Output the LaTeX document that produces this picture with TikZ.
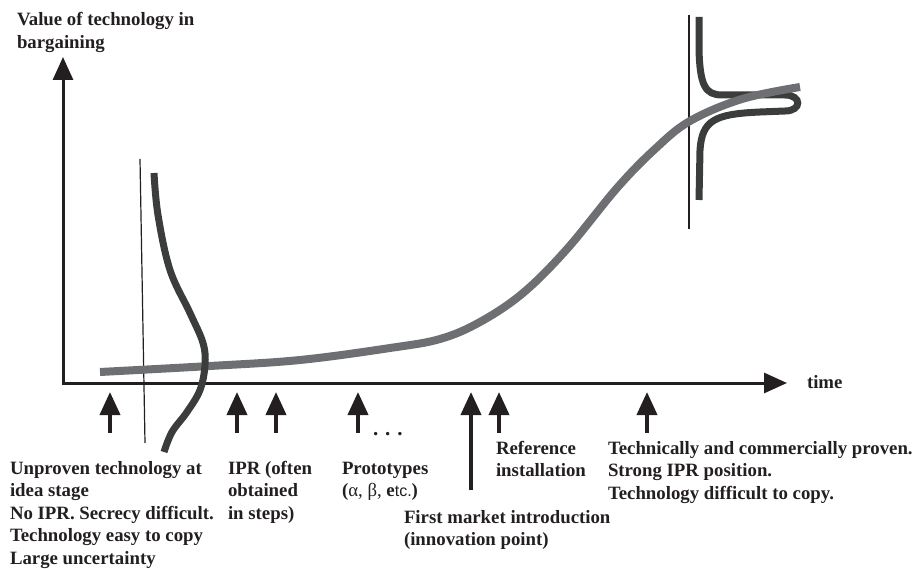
\documentclass[tikz,border=0pt]{standalone}
\usepackage{fontspec}
\setmainfont{Liberation Serif}
\newfontfamily\arialf{Liberation Sans}
\usetikzlibrary{arrows.meta}
\definecolor{axisc}{HTML}{231F20}
\definecolor{curveg}{HTML}{6D6F72}
\definecolor{curved}{HTML}{3B3D3D}
\newcommand\lblfont{\fontsize{18.8}{22.5}\selectfont\bfseries}
\begin{document}
\begin{tikzpicture}[x=1pt,y=-1pt,
 lbl/.style={anchor=base west, inner sep=0, outer sep=0, font=\lblfont, text=axisc},
 axisline/.style={draw=axisc, line width=3pt, line join=miter, {Triangle[length=23pt,width=20pt]}-{Triangle[length=23pt,width=20pt]}},
 markarrow/.style={draw=axisc, line width=3.8pt, -{Triangle[length=23pt,width=20pt]}},
 thinline/.style={draw=axisc, line width=1.2pt},
 graycurve/.style={draw=curveg, line width=8pt},
 darkcurve/.style={draw=curved, line width=7pt},
]
\useasboundingbox (0,0) rectangle (920,569);
% axes
\coordinate (O) at (63,383);
\coordinate (ytip) at (63,57);
\coordinate (xtip) at (787,383);
\draw[axisline] (ytip) -- (O) -- (xtip);
% thin vertical lines
\coordinate (tl1) at (140,159);
\coordinate (tl2) at (145,443);
\coordinate (tr1) at (689,15);
\coordinate (tr2) at (689,229);
\draw[thinline] (tl1) -- (tl2);
\draw[thinline] (tr1) -- (tr2);
% right dark curve
\draw[darkcurve] (699,17) -- (699,50) .. controls (700,85) and (705,95) .. (722,95)
  -- (785,95) .. controls (802,95) and (802,111) .. (785,111)
  -- (760,112) .. controls (715,114) and (702,120) .. (700,150) -- (699,200);
% gray S-curve
\draw[graycurve] plot[smooth, tension=0.6] coordinates {(100,372) (210,366) (300,360) (390,348) (440,339) (480,322) (523,293) (567,249) (617,188) (655,149) (690,121) (742,99) (800,87)};
% left dark curve
\draw[darkcurve] plot[smooth, tension=0.6] coordinates {(154,173) (158,215) (170,270) (190,313) (203,343) (205,365) (200,390) (187,412) (172,432) (164,452)};
% marker arrows
\foreach \n/\x/\yb in {a1/110/433, a2/237/433, a3/276/433, a4/358/433, a5/471/490, a6/499/433, a7/647/433}{
  \coordinate (\n b) at (\x,\yb);
  \coordinate (\n t) at (\x,392);
  \draw[markarrow] (\n b) -- (\n t);
}
% labels
\node[lbl] (ylab) at (17,26) {\begin{tabular}[t]{@{}l@{}}Value of technology in\\bargaining\end{tabular}};
\node[lbl] (xlab) at (807,388) {time};
\node[lbl, font=\fontsize{21}{22}\selectfont\bfseries] (dots) at (373,435) {.\hspace{7pt}.\hspace{7pt}.};
\node[lbl] (l1) at (10,474) {\begin{tabular}[t]{@{}l@{}}Unproven technology at\\idea stage\\No IPR. Secrecy difficult.\\Technology easy to copy\\Large uncertainty\end{tabular}};
\node[lbl] (l2) at (228,474) {\begin{tabular}[t]{@{}l@{}}IPR (often\\obtained\\in steps)\end{tabular}};
\node[lbl] (l3) at (342,474) {\begin{tabular}[t]{@{}l@{}}Prototypes\\({\mdseries α, β, }e{\mdseries\arialf\fontsize{16}{20}\selectfont tc.})\end{tabular}};
\node[lbl] (l4) at (404,523) {\begin{tabular}[t]{@{}l@{}}First market introduction\\(innovation point)\end{tabular}};
\node[lbl] (l5) at (496,454) {\begin{tabular}[t]{@{}l@{}}Reference\\installation\end{tabular}};
\node[lbl] (l6) at (608,454) {\begin{tabular}[t]{@{}l@{}}Technically and commercially proven.\\Strong IPR position.\\Technology difficult to copy.\end{tabular}};
\end{tikzpicture}
\end{document}
